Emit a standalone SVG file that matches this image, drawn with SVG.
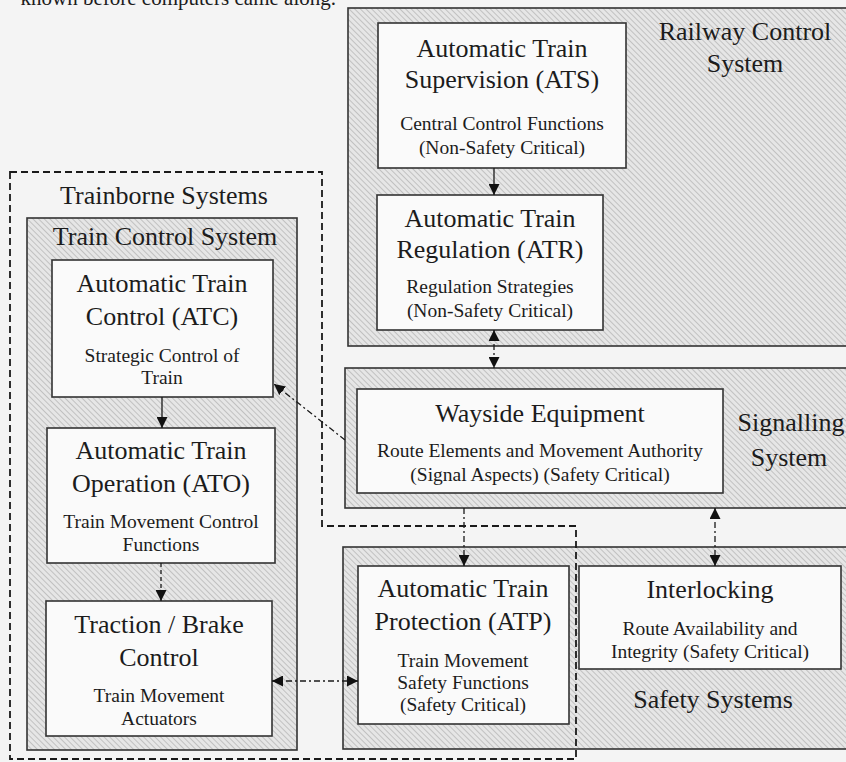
<svg xmlns="http://www.w3.org/2000/svg" width="846" height="762" viewBox="0 0 846 762">
<style>
.t{font-family:"Liberation Serif","Times New Roman",serif;fill:#1c1c1c;text-anchor:middle}
.h{font-size:26px}
.s{font-size:19.5px}
.sys{fill:url(#hatch);stroke:#333;stroke-width:1.6}
.box{fill:#fafafa;stroke:#333;stroke-width:1.6}
.c{fill:none;stroke:#1a1a1a;stroke-width:1.3}
.dd{stroke-dasharray:6 3 2 3}
.d{stroke-dasharray:4 3}
.tb{fill:none;stroke:#1a1a1a;stroke-width:1.8;stroke-dasharray:7 4}
</style>
<defs>
<pattern id="hatch" width="4" height="4" patternUnits="userSpaceOnUse" patternTransform="rotate(-45)">
<rect width="4" height="4" fill="#e6e6e6"/>
<line x1="0" y1="0" x2="0" y2="4" stroke="#9c9c9c" stroke-width="1"/>
</pattern>
<marker id="ah" viewBox="0 0 10 10" refX="10" refY="5" markerWidth="11" markerHeight="11" markerUnits="userSpaceOnUse" orient="auto-start-reverse">
<path d="M0,0 L10,5 L0,10 z" fill="#111"/>
</marker>
</defs>
<rect width="846" height="762" fill="#f4f4f4"/>
<text class="t" x="336" y="5" style="font-size:21px;text-anchor:end">known before computers came along.</text>

<g id="railway-control-system">
<rect class="sys" x="348" y="8" width="502" height="338"/>
<text class="t h" x="745" y="40">Railway Control</text>
<text class="t h" x="745" y="72">System</text>
</g>
<g id="ats">
<rect class="box" x="378" y="23" width="248" height="145"/>
<text class="t h" x="502" y="57">Automatic Train</text>
<text class="t h" x="502" y="88">Supervision (ATS)</text>
<text class="t s" x="502" y="130">Central Control Functions</text>
<text class="t s" x="502" y="154">(Non-Safety Critical)</text>
</g>
<g id="atr">
<rect class="box" x="377" y="195" width="226" height="135"/>
<text class="t h" x="490" y="227">Automatic Train</text>
<text class="t h" x="490" y="258">Regulation (ATR)</text>
<text class="t s" x="490" y="293">Regulation Strategies</text>
<text class="t s" x="490" y="317">(Non-Safety Critical)</text>
</g>
<g id="signalling-system">
<rect class="sys" x="345" y="368" width="505" height="140"/>
<text class="t h" x="791" y="431">Signalling</text>
<text class="t h" x="789" y="466">System</text>
</g>
<g id="wayside-equipment">
<rect class="box" x="357" y="389" width="366" height="104"/>
<text class="t h" x="540" y="422">Wayside Equipment</text>
<text class="t s" x="540" y="457">Route Elements and Movement Authority</text>
<text class="t s" x="540" y="481">(Signal Aspects) (Safety Critical)</text>
</g>
<g id="safety-systems">
<rect class="sys" x="343" y="547" width="507" height="202"/>
<text class="t h" x="713" y="708">Safety Systems</text>
</g>
<g id="atp">
<rect class="box" x="358" y="566" width="211" height="158"/>
<text class="t h" x="463" y="597">Automatic Train</text>
<text class="t h" x="463" y="630">Protection (ATP)</text>
<text class="t s" x="463" y="667">Train Movement</text>
<text class="t s" x="463" y="689">Safety Functions</text>
<text class="t s" x="463" y="711">(Safety Critical)</text>
</g>
<g id="interlocking">
<rect class="box" x="579" y="566" width="262" height="103"/>
<text class="t h" x="710" y="598">Interlocking</text>
<text class="t s" x="710" y="635">Route Availability and</text>
<text class="t s" x="710" y="658">Integrity (Safety Critical)</text>
</g>
<g id="train-control-system">
<rect class="sys" x="27" y="218" width="270" height="532"/>
<text class="t h" x="165" y="245">Train Control System</text>
</g>
<g id="atc">
<rect class="box" x="52" y="260" width="221" height="137"/>
<text class="t h" x="162" y="292">Automatic Train</text>
<text class="t h" x="162" y="325">Control (ATC)</text>
<text class="t s" x="162" y="362">Strategic Control of</text>
<text class="t s" x="162" y="384">Train</text>
</g>
<g id="ato">
<rect class="box" x="47" y="428" width="228" height="135"/>
<text class="t h" x="161" y="459">Automatic Train</text>
<text class="t h" x="161" y="492">Operation (ATO)</text>
<text class="t s" x="161" y="528">Train Movement Control</text>
<text class="t s" x="161" y="551">Functions</text>
</g>
<g id="traction-brake-control">
<rect class="box" x="46" y="601" width="226" height="135"/>
<text class="t h" x="159" y="633">Traction / Brake</text>
<text class="t h" x="159" y="666">Control</text>
<text class="t s" x="159" y="702">Train Movement</text>
<text class="t s" x="159" y="725">Actuators</text>
</g>
<g id="trainborne-systems">
<path class="tb" d="M10,172 H322 V526 H576 V759 H10 Z"/>
<text class="t h" x="164" y="204">Trainborne Systems</text>
</g>

<g id="connectors">
<line class="c" x1="494" y1="168" x2="494" y2="195" marker-end="url(#ah)"/>
<line class="c dd" x1="494" y1="330" x2="494" y2="368" marker-start="url(#ah)" marker-end="url(#ah)"/>
<line class="c dd" x1="345" y1="440" x2="274" y2="384" marker-end="url(#ah)"/>
<line class="c" x1="162" y1="397" x2="162" y2="428" marker-end="url(#ah)"/>
<line class="c d" x1="161" y1="563" x2="161" y2="601" marker-end="url(#ah)"/>
<line class="c dd" x1="464" y1="508" x2="464" y2="566" marker-end="url(#ah)"/>
<line class="c dd" x1="715" y1="508" x2="715" y2="566" marker-start="url(#ah)" marker-end="url(#ah)"/>
<line class="c dd" x1="272" y1="681" x2="358" y2="681" marker-start="url(#ah)" marker-end="url(#ah)"/>
</g>
</svg>
